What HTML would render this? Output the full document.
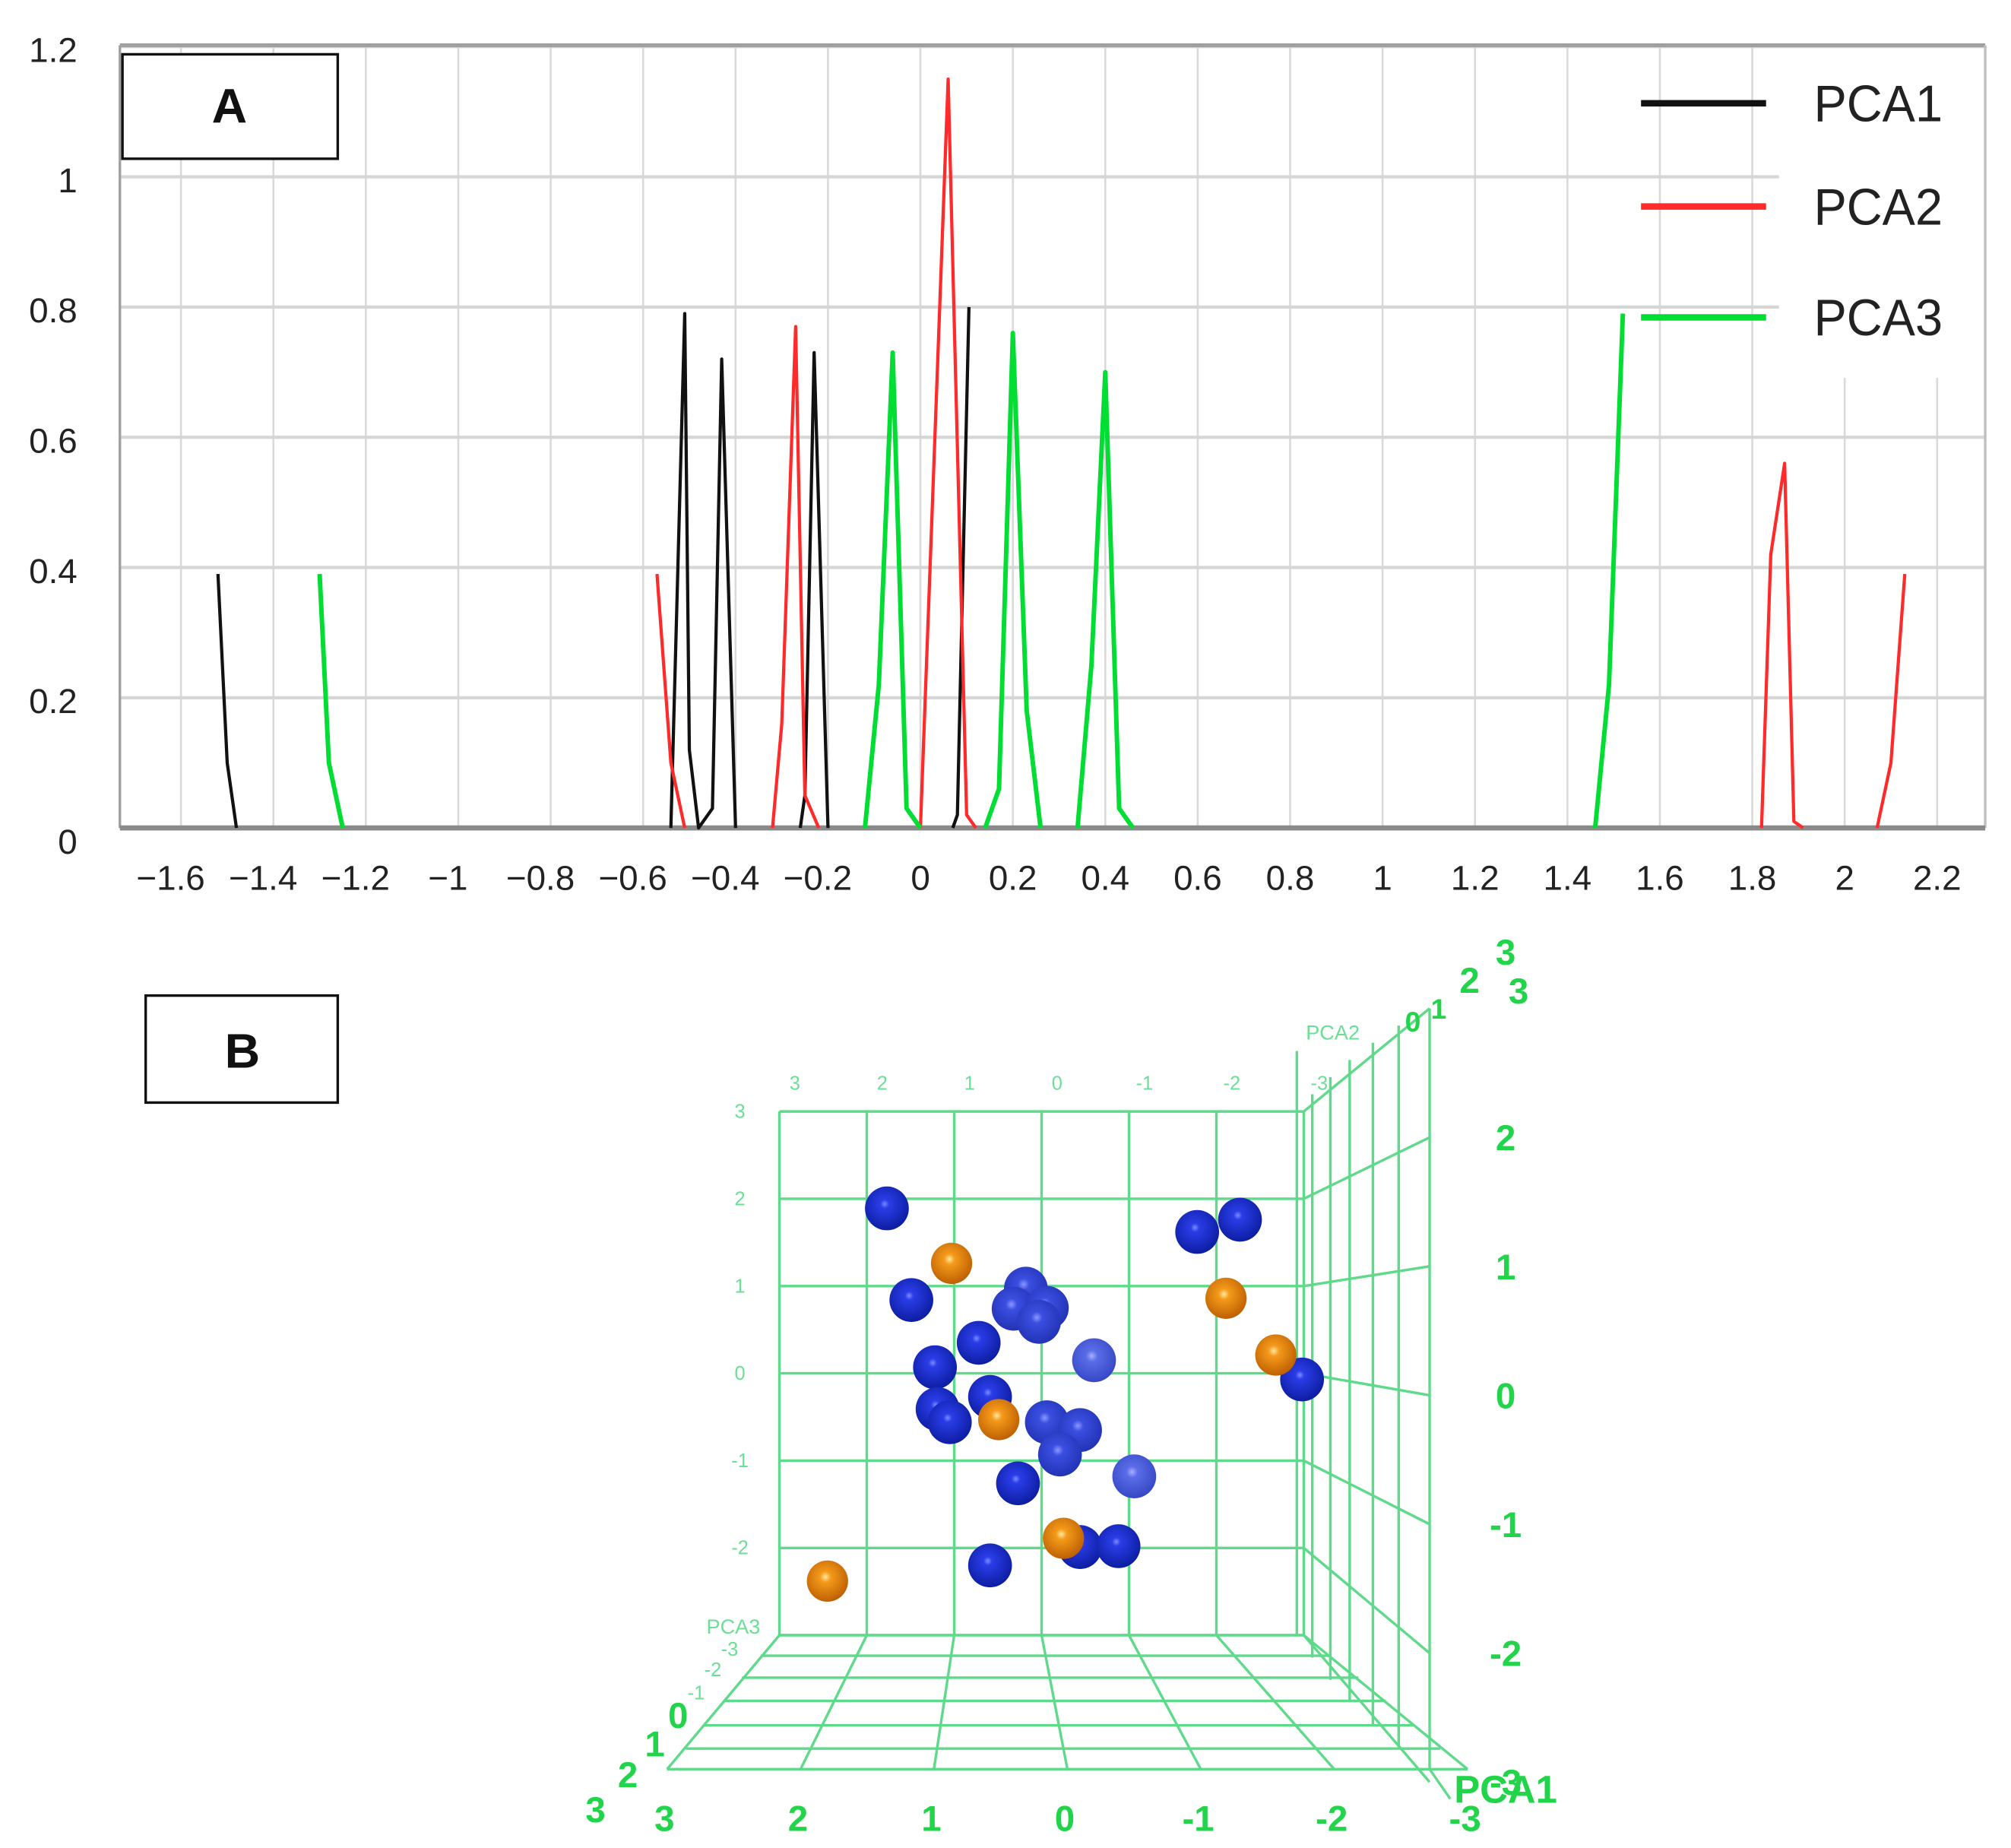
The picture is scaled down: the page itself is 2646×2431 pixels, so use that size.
<!DOCTYPE html>
<html><head><meta charset="utf-8"><style>
html,body{margin:0;padding:0;background:#fff}
svg{display:block}
text{font-family:"Liberation Sans",sans-serif}
</style></head><body>
<svg id="fig" width="2646" height="2431" viewBox="0 0 1560 1433" xmlns="http://www.w3.org/2000/svg">
<defs>
<radialGradient id="gb" cx="0.45" cy="0.4" r="0.65"><stop offset="0" stop-color="#7f8cff"/><stop offset="0.15" stop-color="#2a3de8"/><stop offset="1" stop-color="#0a1a9a"/></radialGradient>
<radialGradient id="gm" cx="0.45" cy="0.4" r="0.65"><stop offset="0" stop-color="#8c98ff"/><stop offset="0.2" stop-color="#3a4ee0"/><stop offset="1" stop-color="#2030b0"/></radialGradient>
<radialGradient id="gl" cx="0.45" cy="0.4" r="0.65"><stop offset="0" stop-color="#a6b0ff"/><stop offset="0.2" stop-color="#5a6ce8"/><stop offset="1" stop-color="#3444c0"/></radialGradient>
<radialGradient id="go" cx="0.45" cy="0.4" r="0.65"><stop offset="0" stop-color="#ffe9a0"/><stop offset="0.2" stop-color="#f59a1a"/><stop offset="1" stop-color="#b85a00"/></radialGradient>
</defs>
<g id="chartA"></g>
<g id="chartB"></g>
</svg>
<script>
// ---- Chart A data ----
const xTicks = [-1.6,-1.4,-1.2,-1,-0.8,-0.6,-0.4,-0.2,0,0.2,0.4,0.6,0.8,1,1.2,1.4,1.6,1.8,2,2.2];
const xTickLabels = ["−1.6","−1.4","−1.2","−1","−0.8","−0.6","−0.4","−0.2","0","0.2","0.4","0.6","0.8","1","1.2","1.4","1.6","1.8","2","2.2"];
const yTicks = [0,0.2,0.4,0.6,0.8,1,1.2];
const yTickLabels = ["0","0.2","0.4","0.6","0.8","1","1.2"];
const pca1Segments = [
 [[-1.52,0.39],[-1.50,0.10],[-1.48,0]],
 [[-0.54,0],[-0.51,0.79],[-0.50,0.12],[-0.48,0],[-0.45,0.03],[-0.43,0.72],[-0.40,0]],
 [[-0.26,0],[-0.25,0.05],[-0.23,0.73],[-0.20,0]],
 [[0.07,0],[0.08,0.02],[0.105,0.80]]
];
const pca2Segments = [
 [[-0.57,0.39],[-0.54,0.10],[-0.51,0]],
 [[-0.32,0],[-0.30,0.16],[-0.27,0.77],[-0.25,0.05],[-0.22,0]],
 [[0,0],[0.06,1.15],[0.10,0.02],[0.12,0]],
 [[1.82,0],[1.84,0.42],[1.87,0.56],[1.89,0.01],[1.91,0]],
 [[2.07,0],[2.10,0.10],[2.13,0.39]]
];
const pca3Segments = [
 [[-1.30,0.39],[-1.28,0.10],[-1.25,0]],
 [[-0.12,0],[-0.09,0.22],[-0.06,0.73],[-0.03,0.03],[0,0]],
 [[0.14,0],[0.17,0.06],[0.20,0.76],[0.23,0.18],[0.26,0]],
 [[0.34,0],[0.37,0.25],[0.40,0.70],[0.43,0.03],[0.46,0]],
 [[1.46,0],[1.49,0.22],[1.52,0.79]]
];
const seriesNames = ["PCA1","PCA2","PCA3"];
const seriesColors = ["#111111","#ff2a2a","#00dd33"];

// ---- Chart B data (PCA1 horizontal, PCA3 vertical) ----
const blueX = [1.77,-1.78,-2.27,1.49,0.18,0.32,-0.06,0.03,0.72,-0.60,1.22,-2.98,0.59,1.19,1.05,-0.06,-0.44,-0.21,-1.06,0.27,-0.44,-0.88,0.59];
const blueY = [1.89,1.62,1.76,0.84,0.97,0.74,0.75,0.59,0.35,0.15,0.07,-0.07,-0.27,-0.41,-0.56,-0.56,-0.65,-0.93,-1.18,-1.26,-1.99,-1.98,-2.20];
const blueShade = [0,0,0,0,1,1,1,1,0,2,0,0,0,0,0,1,1,1,2,0,0,0,0];
const orangeX = [1.03,-2.11,-2.68,0.49,-0.25,2.45];
const orangeY = [1.26,0.86,0.21,-0.53,-1.89,-2.38];
const cubeTicks = [3,2,1,0,-1,-2,-3];

const NS="http://www.w3.org/2000/svg";
function mk(tag,attrs,parent){const e=document.createElementNS(NS,tag);for(const k in attrs)e.setAttribute(k,attrs[k]);parent.appendChild(e);return e;}

// ===== Chart A =====
const A=document.getElementById('chartA');
const L=93,R=1540,T=35,B=642;
const sx=v=>714+v*358.5, sy=v=>642-v*505;
xTicks.forEach((v,i)=>{const g=mk('line',{x1:sx(v),x2:sx(v),y1:(v>=1.9?293:T),y2:B,stroke:'#d9d9d9','stroke-width':1.5},A);
});
yTicks.forEach(v=>{const g=mk('line',{x1:L,x2:(v>=0.7&&v<1.1?1380:R),y1:sy(v),y2:sy(v),stroke:'#d6d6d6','stroke-width':2.5},A);
});
mk('line',{x1:L,x2:R,y1:T,y2:T,stroke:'#a0a0a0','stroke-width':3},A);
mk('line',{x1:L,x2:L,y1:T,y2:B,stroke:'#a0a0a0','stroke-width':2},A);
mk('line',{x1:R,x2:R,y1:T,y2:B,stroke:'#c0c0c0','stroke-width':2},A);
const ax=mk('line',{x1:L,x2:R,y1:B,y2:B,stroke:'#8a8a8a','stroke-width':4},A);

xTicks.forEach((v,i)=>{const t=mk('text',{x:sx(v)-(v<0?8:0),y:690,'font-size':27,'text-anchor':'middle',fill:'#222'},A);t.textContent=xTickLabels[i];
});
yTicks.forEach((v,i)=>{const t=mk('text',{x:60,y:sy(v)+12+(v===0?8:0),'font-size':27,'text-anchor':'end',fill:'#222'},A);t.textContent=yTickLabels[i];
});
[pca1Segments,pca2Segments,pca3Segments].forEach((segs,si)=>{
 segs.forEach(seg=>{const p=mk('polyline',{points:seg.map(d=>sx(d[0])+','+sy(d[1])).join(' '),fill:'none',stroke:seriesColors[si],'stroke-width':si===2?3.5:2.5,'stroke-linejoin':'round'},A);
 });
});
const boxA=mk('rect',{x:95,y:42,width:167,height:81,fill:'#fff',stroke:'#111','stroke-width':2},A);

const ta=mk('text',{x:178,y:95,'font-size':38,'font-weight':'bold','text-anchor':'middle',fill:'#111'},A);ta.textContent='A';

[80,160,246].forEach((y,i)=>{
 const l=mk('line',{x1:1273,x2:1370,y1:y,y2:y,stroke:seriesColors[i],'stroke-width':5},A);
 
 const t=mk('text',{x:1407,y:y+14,'font-size':40,fill:'#222',textLength:100,lengthAdjust:'spacingAndGlyphs'},A);t.textContent=seriesNames[i];
 
});

// ===== Chart B =====
const Bg=document.getElementById('chartB');
const boxB=mk('rect',{x:113,y:772,width:149,height:83,fill:'#fff',stroke:'#111','stroke-width':2},Bg);

const tb=mk('text',{x:188,y:828,'font-size':38,'font-weight':'bold','text-anchor':'middle',fill:'#111'},Bg);tb.textContent='B';

const GC='#5fd98a';
const fx=v=>808-v*67.8, fy=v=>1065-v*67.7;
const grid=mk('g',{stroke:GC,'stroke-width':2,fill:'none'},Bg);

cubeTicks.forEach(v=>{mk('line',{x1:fx(v),x2:fx(v),y1:fy(3),y2:fy(-3)},grid);mk('line',{x1:fx(3),x2:fx(-3),y1:fy(v),y2:fy(v)},grid);});
const rx=[1006,1018,1032,1047,1065,1085,1109];
const backY=v=>1082-v*100;
cubeTicks.forEach((v,i)=>{mk('line',{x1:fx(-3),y1:fy(v),x2:1109,y2:backY(v)},grid);});
rx.forEach((x,i)=>{const f=i/6;const top=fy(3)+(backY(3)-fy(3))*f, bot=fy(-3)+(1372-fy(-3))*f;mk('line',{x1:x,x2:x,y1:top,y2:bot},grid);});
mk('line',{x1:1006,x2:1006,y1:fy(3),y2:815},grid);
const nearX=v=>828-v*103.5;
cubeTicks.forEach(v=>{mk('line',{x1:fx(v),y1:fy(-3),x2:nearX(v),y2:1372},grid);});
[1268,1284,1301,1319,1338,1356,1372].forEach((y,i)=>{const f=i/6;mk('line',{x1:fx(3)+(nearX(3)-fx(3))*f,x2:fx(-3)+(nearX(-3)-fx(-3))*f,y1:y,y2:y},grid);});
mk('line',{x1:1109,y1:1372,x2:1125,y2:1395},grid);
cubeTicks.forEach(v=>{
 const t=mk('text',{x:fx(v)+12,y:845,'font-size':15,fill:'#6adf95','text-anchor':'middle'},Bg);t.textContent=String(v);
 
 if(v>-3){const u=mk('text',{x:574,y:fy(v)+5,'font-size':15,fill:'#6adf95','text-anchor':'middle'},Bg);u.textContent=String(v);
 }
 const n=mk('text',{x:nearX(v)-2,y:1420,'font-size':28,'font-weight':'bold',fill:'#22d44a','text-anchor':'middle'},Bg);n.textContent=String(v);
 
 if(v<3){const r=mk('text',{x:1168,y:backY(v)+10,'font-size':28,'font-weight':'bold',fill:'#22d44a','text-anchor':'middle'},Bg);r.textContent=String(v);
 }
});
[['3',1168,748],['3',1178,778],['2',1140,770],['1',1116,790],['0',1096,800],['3',462,1413],['2',487,1386],['1',508,1362],['0',526,1340]].forEach(d=>{
 const t=mk('text',{x:d[1],y:d[2],'font-size':d[2]>1300||d[1]>1130?28:22,'font-weight':'bold',fill:'#22d44a','text-anchor':'middle'},Bg);t.textContent=d[0];
 });
[['-1',540,1318],['-2',553,1300],['-3',566,1284]].forEach(d=>{
 const t=mk('text',{x:d[1],y:d[2],'font-size':15,fill:'#6adf95','text-anchor':'middle'},Bg);t.textContent=d[0];
 });
[['PCA2',1013,806,16],['PCA3',548,1267,16]].forEach(d=>{const t=mk('text',{x:d[1],y:d[2],'font-size':d[3],fill:'#6adf95'},Bg);t.textContent=d[0];
 });
const p1=mk('text',{x:1128,y:1398,'font-size':30,'font-weight':'bold',fill:'#22d44a'},Bg);p1.textContent='PCA1';

const fills=['url(#gb)','url(#gm)','url(#gl)'];
blueX.forEach((x,i)=>{const c=mk('circle',{cx:fx(x),cy:fy(blueY[i]),r:17,fill:fills[blueShade[i]]},Bg);
 });
orangeX.forEach((x,i)=>{const c=mk('circle',{cx:fx(x),cy:fy(orangeY[i]),r:16,fill:'url(#go)'},Bg);
 });
</script>
</body></html>
